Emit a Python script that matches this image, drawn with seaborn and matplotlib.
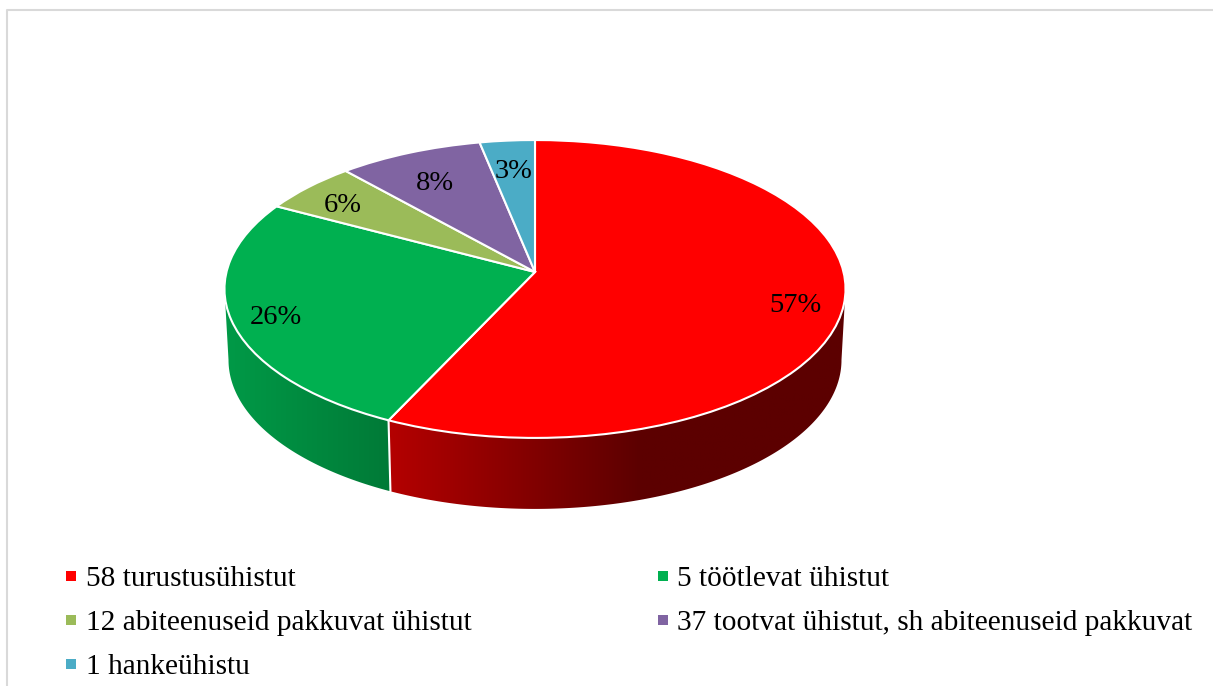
import numpy as np
import matplotlib
matplotlib.use('Agg')
import matplotlib.pyplot as plt
import seaborn as sns
from matplotlib.colors import LinearSegmentedColormap
from matplotlib.lines import Line2D
from matplotlib.patches import Polygon
from matplotlib.transforms import Transform

# Data
legend_labels = ['58 turustusühistut', '5 töötlevat ühistut', '12 abiteenuseid pakkuvat ühistut',
                 '37 tootvat ühistut, sh abiteenuseid pakkuvat', '1 hankeühistu']
shares = [57.0, 25.8, 5.6, 8.4, 3.2]
slice_colors = ['#ff0000', '#00b050', '#9bbb59', '#8064a2', '#4bacc6']

# Style: the axes run in image pixels
label_xy = [(795, 305), (276, 317), (343, 205), (435, 183), (514, 171)]
wall_shades = [[(0, '#b40000'), (0.25, '#8c0000'), (0.55, '#5c0000'), (1, '#5c0000')],
               [(0, '#019a47'), (1, '#007a37')]]
FONT = 'Liberation Serif'
CX, CY, RX, RY, PERSP = 535, 272, 308.5, 147, 0.114
WALL_SCALE, WALL_DROP = 0.987, 71
FRONT_FROM, FRONT_TO = 186.5, 353.5  # part of the rim where the wall faces the viewer


class TiltedPie(Transform):
    # unit circle -> perspective view of the pie top, in pixels
    input_dims = 2
    output_dims = 2
    is_affine = False

    def transform_non_affine(self, values):
        values = np.asarray(values, dtype=float)
        w = 1 + PERSP * values[:, 1]
        return np.column_stack([CX + RX * values[:, 0] / w, CY - RY * values[:, 1] / w])


sns.set_theme(style='white')
plt.rcParams['font.family'] = [FONT, 'DejaVu Serif']
palette = sns.color_palette(slice_colors)

fig = plt.figure(figsize=(12.13, 6.86), dpi=100)
ax = fig.add_axes([0, 0, 1, 1])

wedges, _, pct_texts = ax.pie(shares, colors=palette, startangle=90, counterclock=False,
                              autopct='%.0f%%', textprops={'fontsize': 20.5, 'color': 'black'},
                              wedgeprops={'edgecolor': 'white', 'linewidth': 1.5})
ax.set_aspect('auto')

tilt = TiltedPie()
for wedge in wedges:
    wedge.set_transform(tilt + ax.transData)
    wedge.set_zorder(3)
for text, xy in zip(pct_texts, label_xy):
    text.set_position(xy)
    text.set_ha('center')
    text.set_va('center')
    text.set_zorder(4)


def rim(theta1, theta2):
    angles = np.radians(np.linspace(theta1, theta2, 200))
    return tilt.transform(np.column_stack([np.cos(angles), np.sin(angles)]))


def lower(points):
    return np.column_stack([CX + (points[:, 0] - CX) * WALL_SCALE, points[:, 1] + WALL_DROP])


# Side wall of the two front slices, gradient clipped to the wall outline
for wedge, stops in zip(wedges, wall_shades):
    start = wedge.theta1 % 360
    end = start + wedge.theta2 - wedge.theta1
    top = rim(max(start, FRONT_FROM), min(end, FRONT_TO))
    outline = np.vstack([top, lower(top)[::-1]])
    x0, x1 = outline[:, 0].min(), outline[:, 0].max()
    y0, y1 = outline[:, 1].min(), outline[:, 1].max()
    cmap = LinearSegmentedColormap.from_list('wall', stops)
    image = ax.imshow(np.linspace(0, 1, 256)[None, :], cmap=cmap, extent=(x0, x1, y1, y0),
                      aspect='auto', zorder=1)
    image.set_clip_path(Polygon(outline, transform=ax.transData))

# White seam where the two walls meet
seam_top = rim(wedges[0].theta1, wedges[0].theta1)[:1]
seam = np.vstack([seam_top, lower(seam_top)])
ax.plot(seam[:, 0], seam[:, 1], color='white', lw=1.5, zorder=2)

# Chart frame, only top and left are inside the picture
ax.plot([6.5, 6.5, 1213], [686, 10, 10], color='#d9d9d9', lw=1.5, zorder=0)

order = [0, 2, 4, 1, 3]
handles = [Line2D([], [], ls='', marker='s', ms=6.5, mew=0, color=palette[i]) for i in order]
ax.legend(handles, [legend_labels[i] for i in order], ncols=2, frameon=False, fontsize=21.15,
          labelcolor='black', loc='upper left', bbox_to_anchor=(63.5 / 1213, 1 - 565.5 / 686),
          borderaxespad=0, borderpad=0, handlelength=0.5, handletextpad=0.25, labelspacing=0.59,
          columnspacing=6.27)

ax.set_xlim(0, 1213)
ax.set_ylim(686, 0)
ax.set_axis_off()

fig.savefig('out.png', dpi=100)
